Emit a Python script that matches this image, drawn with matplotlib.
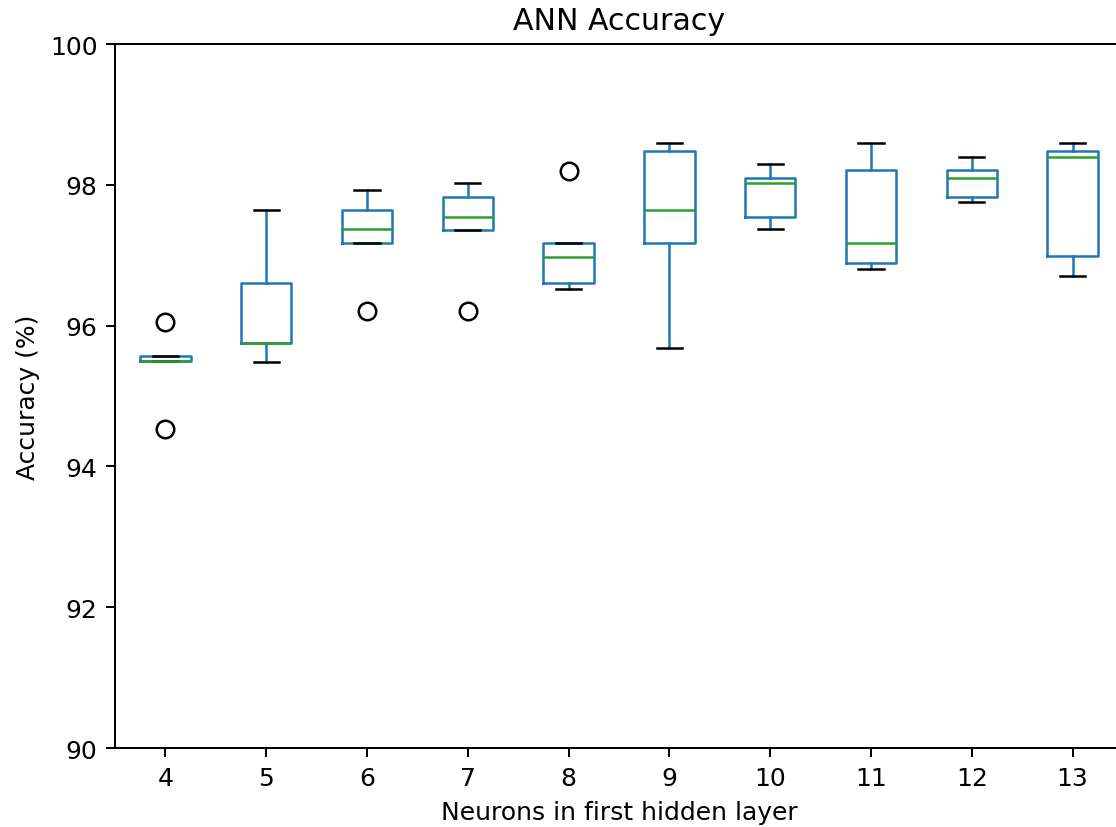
import matplotlib
matplotlib.use("Agg")
import matplotlib.pyplot as plt

# neurons in first hidden layer
neurons = [4, 5, 6, 7, 8, 9, 10, 11, 12, 13]

# box statistics (accuracy in %)
whis_lo = [95.50, 95.49, 97.17, 97.36, 96.52, 95.68, 97.37, 96.80, 97.75, 96.71]
q1 = [95.50, 95.76, 97.17, 97.36, 96.60, 97.17, 97.55, 96.89, 97.83, 96.99]
med = [95.50, 95.76, 97.37, 97.55, 96.98, 97.64, 98.02, 97.17, 98.10, 98.40]
q3 = [95.57, 96.60, 97.64, 97.83, 97.17, 98.48, 98.10, 98.21, 98.21, 98.48]
whis_hi = [95.57, 97.64, 97.93, 98.02, 97.17, 98.59, 98.30, 98.59, 98.40, 98.59]
fliers = [[96.05, 94.53], [], [96.21], [96.21], [98.20], [], [], [], [], []]

stats = []
for i in range(len(neurons)):
    stats.append(dict(label=str(neurons[i]), whislo=whis_lo[i], q1=q1[i],
                      med=med[i], q3=q3[i], whishi=whis_hi[i], fliers=fliers[i]))

fig = plt.figure(figsize=(6.2, 4.6), dpi=180)
# axes run past the right edge, as in the cropped original
ax = fig.add_axes([0.1030, 0.0954, 0.9032, 0.8502])

ax.bxp(stats, widths=0.5, patch_artist=False,
       boxprops=dict(color='C0'),
       whiskerprops=dict(color='C0'),
       medianprops=dict(color='C2'),
       capprops=dict(color='k'),
       flierprops=dict(marker='o', markerfacecolor='none', markeredgecolor='k',
                       markersize=7))

ax.set_xlim(0.5, 10.5)
ax.set_ylim(90, 100)
ax.set_yticks([90, 92, 94, 96, 98, 100])
ax.set_title('ANN Accuracy')
ax.set_xlabel('Neurons in first hidden layer')
ax.set_ylabel('Accuracy (%)')

fig.savefig('out.png', dpi=180)
